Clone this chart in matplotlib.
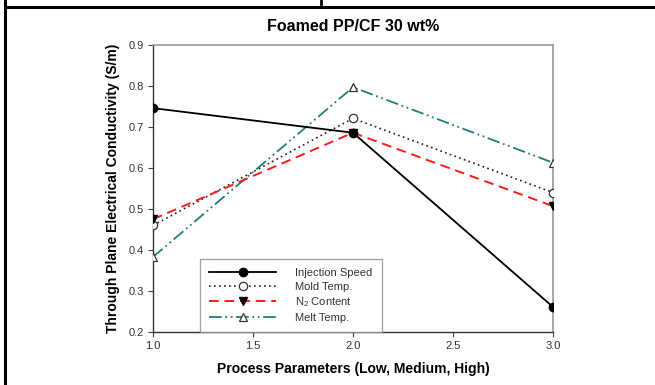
import matplotlib
matplotlib.use("Agg")
import matplotlib.pyplot as plt
from matplotlib.lines import Line2D

plt.rcParams['font.family'] = ['Liberation Sans', 'DejaVu Sans']
plt.rcParams['mathtext.fontset'] = 'custom'
plt.rcParams['mathtext.rm'] = 'Liberation Sans'
plt.rcParams['mathtext.it'] = 'Liberation Sans:italic'
plt.rcParams['mathtext.bf'] = 'Liberation Sans:bold'

levels = [1.0, 2.0, 3.0]
injection_speed = [0.746, 0.686, 0.261]
mold_temp = [0.460, 0.721, 0.540]
n2_content = [0.475, 0.686, 0.507]
melt_temp = [0.383, 0.797, 0.613]

series_names = ["Injection Speed", "Mold Temp.", "N$_2$ Content", "Melt Temp."]
title = "Foamed PP/CF 30 wt%"
xlabel = "Process Parameters (Low, Medium, High)"
ylabel = "Through Plane Electrical Conductivity (S/m)"

fig = plt.figure(figsize=(6.55, 3.85), dpi=100)
W, H = 655, 385
ax = fig.add_axes([153 / W, 1 - 332 / H, 400 / W, 287 / H])

ax.plot(levels, injection_speed, color="black", lw=1.3, ls="-",
        marker="o", ms=6, mfc="black", mec="black", label=series_names[0], zorder=5)
ax.plot(levels, mold_temp, color="#222222", lw=1.2, ls=(0, (1, 2)),
        marker="o", ms=6, mfc="white", mec="#333333", mew=0.9, label=series_names[1], zorder=4)
ax.plot(levels, n2_content, color="#ff1a1a", lw=1.4, ls=(0, (5, 3)),
        marker="v", ms=6, mfc="black", mec="black", label=series_names[2], zorder=4)
ax.plot(levels, melt_temp, color="#1f7f7a", lw=1.3, ls=(0, (7, 2, 1, 2, 1, 2)),
        marker="^", ms=6, mfc="white", mec="#333333", mew=0.9, label=series_names[3], zorder=3)

ax.set_xlim(1.0, 3.0)
ax.set_ylim(0.2, 0.9)
ax.set_xticks([1.0, 1.5, 2.0, 2.5, 3.0])
ax.set_yticks([0.2, 0.3, 0.4, 0.5, 0.6, 0.7, 0.8, 0.9])
ax.xaxis.set_major_formatter(matplotlib.ticker.FormatStrFormatter("%.1f"))
ax.yaxis.set_major_formatter(matplotlib.ticker.FormatStrFormatter("%.1f"))
ax.tick_params(direction="out", length=3.5, width=0.8, labelsize=8,
               labelcolor="#333333", color="#444444", pad=3)
for side in ["top", "right"]:
    ax.spines[side].set_color("#999999")
    ax.spines[side].set_linewidth(1.2)
for side in ["left", "bottom"]:
    ax.spines[side].set_color("#333333")
    ax.spines[side].set_linewidth(1.0)

ax.set_xlabel(xlabel, fontsize=10, fontweight="bold", labelpad=8)
ax.set_ylabel(ylabel, fontsize=10, fontweight="bold", labelpad=6)
ax.set_title(title, fontsize=11.5, fontweight="bold", pad=10)

leg = ax.legend(loc="lower left", bbox_to_anchor=(47 / 400, 0.0), fontsize=8,
                handlelength=6.0, frameon=True, fancybox=False, borderpad=0.85,
                labelspacing=0.32, handletextpad=1.7, borderaxespad=0.0)
leg.get_frame().set_edgecolor("#888888")
leg.get_frame().set_linewidth(0.9)
for t in leg.get_texts():
    t.set_color("#333333")

# page frame around the figure
fig.add_artist(Line2D([4.5 / W, 4.5 / W], [0, 1], transform=fig.transFigure,
                      color="black", lw=2.2))
fig.add_artist(Line2D([4.5 / W, 1], [1 - 7 / H, 1 - 7 / H], transform=fig.transFigure,
                      color="black", lw=2.2))
fig.add_artist(Line2D([321 / W, 321 / W], [1 - 4 / H, 1], transform=fig.transFigure,
                      color="black", lw=2.0))

fig.savefig("out.png", dpi=100)
